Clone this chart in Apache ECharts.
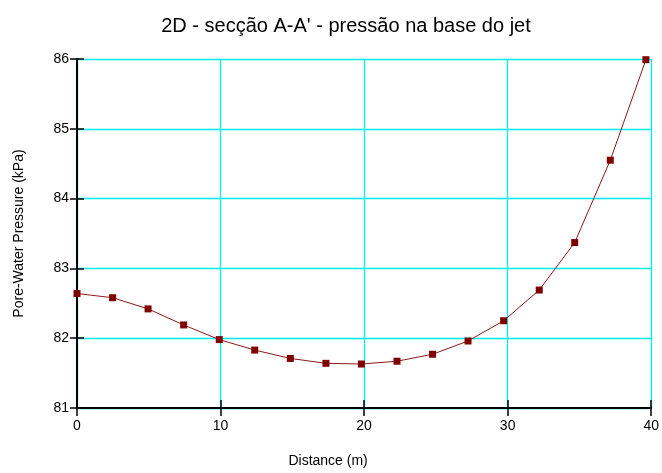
<!DOCTYPE html>
<html>
<head>
<meta charset="utf-8">
<script src="https://cdn.jsdelivr.net/npm/echarts@6/dist/echarts.min.js"></script>
<style>
  html, body { margin: 0; padding: 0; background: #fff; }
  #chart { width: 662px; height: 473px; }
</style>
</head>
<body>
<div id="chart"></div>
<script>
// Pore-water pressure along section A-A' at the jet base
const distance = [0, 2.48, 4.95, 7.43, 9.91, 12.38, 14.86, 17.34, 19.81, 22.29, 24.77, 27.24, 29.72, 32.2, 34.67, 37.15, 39.63];
const pressure = [82.64, 82.58, 82.42, 82.19, 81.98, 81.83, 81.71, 81.64, 81.63, 81.67, 81.77, 81.96, 82.25, 82.69, 83.37, 84.55, 85.99];
const xTicks = [0, 10, 20, 30, 40];
const yTicks = [81, 82, 83, 84, 85, 86];

const font = 'Liberation Sans, Arial, sans-serif';
const gridColor = '#00f0f0';
const chart = echarts.init(document.getElementById('chart'));

const xRange = { type: 'value', min: xTicks[0], max: xTicks[xTicks.length - 1], interval: 10 };
const yRange = { type: 'value', min: yTicks[0], max: yTicks[yTicks.length - 1], interval: 1 };

// Secondary axes only add the inner half of each tick so ticks cross the axis line
const innerTicks = (len) => ({
  axisLine: { show: false },
  axisTick: { show: true, inside: true, length: len, lineStyle: { color: '#000', width: 1.5 } },
  axisLabel: { show: false },
  splitLine: { show: false }
});

chart.setOption({
  backgroundColor: '#fff',
  animation: false,
  title: {
    text: "2D - secção A-A' - pressão na base do jet",
    left: 341, top: 11, textAlign: 'center',
    textStyle: { fontFamily: font, fontSize: 20, fontWeight: 'normal', color: '#000' }
  },
  grid: { left: 77, right: 9, top: 59, bottom: 60 },
  xAxis: [
    Object.assign({}, xRange, {
      position: 'bottom',
      name: 'Distance (m)', nameLocation: 'middle', nameGap: 46,
      nameTextStyle: { fontFamily: font, fontSize: 14, color: '#000', padding: [0, 72, 0, 0] },
      axisLine: { show: true, lineStyle: { color: '#000', width: 2 } },
      axisTick: { show: true, length: 8, lineStyle: { color: '#000', width: 1.5 } },
      axisLabel: { fontFamily: font, fontSize: 14, color: '#000', margin: 11 },
      splitLine: { show: true, lineStyle: { color: gridColor, width: 1.3 } }
    }),
    Object.assign({}, xRange, { position: 'bottom' }, innerTicks(8))
  ],
  yAxis: [
    Object.assign({}, yRange, {
      position: 'left',
      name: 'Pore-Water Pressure (kPa)', nameLocation: 'middle', nameGap: 51,
      nameTextStyle: { fontFamily: font, fontSize: 14, color: '#000' },
      axisLine: { show: true, lineStyle: { color: '#000', width: 2 } },
      axisTick: { show: true, length: 7, lineStyle: { color: '#000', width: 1.5 } },
      axisLabel: { fontFamily: font, fontSize: 14, color: '#000', margin: 8 },
      splitLine: { show: true, lineStyle: { color: gridColor, width: 1.3 } }
    }),
    Object.assign({}, yRange, { position: 'left' }, innerTicks(7))
  ],
  series: [{
    type: 'line',
    xAxisIndex: 0, yAxisIndex: 0,
    data: distance.map((d, i) => [d, pressure[i]]),
    symbol: 'rect', symbolSize: 7,
    lineStyle: { color: '#8b1a1a', width: 1 },
    itemStyle: { color: '#800000' },
    z: 5
  }]
});
</script>
</body>
</html>
